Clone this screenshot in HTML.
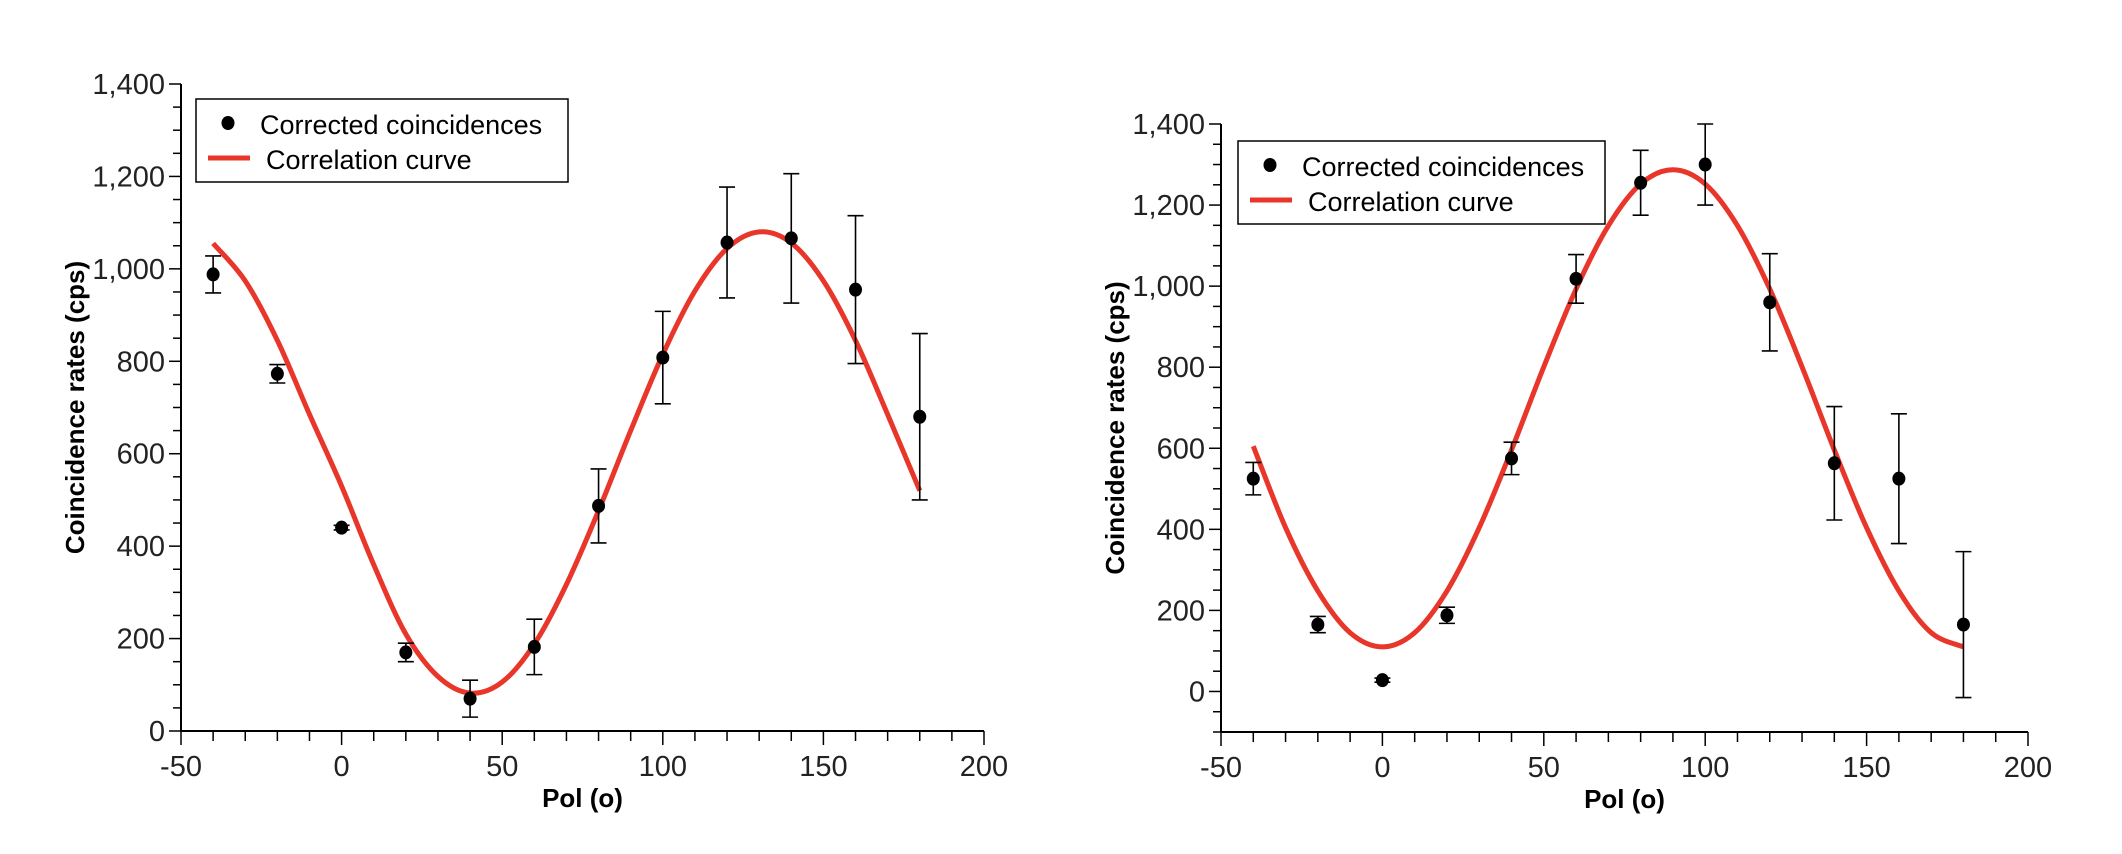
<!DOCTYPE html>
<html><head><meta charset="utf-8">
<style>
html,body{margin:0;padding:0;background:#fff;}
svg{display:block;font-family:"Liberation Sans",sans-serif;}
</style></head>
<body>
<svg id="svg" width="2122" height="854" viewBox="0 0 2122 854" xmlns="http://www.w3.org/2000/svg"></svg>
<script>
const curveAngles = [-40,-30,-20,-10,0,10,20,30,40,50,60,70,80,90,100,110,120,130,140,150,160,170,180];
const pointAngles = [-40,-20,0,20,40,60,80,100,120,140,160,180];
const leftPoints = [988,773,440,170,70,182,487,808,1057,1066,955,680];
const leftErrors = [40,20,5,20,40,60,80,100,120,140,160,180];
const leftCurve = [1055,974,845,685,530,360,210,118,82,106,188,317,477,650,815,952,1044,1080,1056,974,845,685,520];
const rightPoints = [525,165,28,188,575,1018,1255,1300,960,563,525,165];
const rightErrors = [40,20,5,20,40,60,80,100,120,140,160,180];
const rightCurve = [605,404,248,145,110,145,248,404,596,801,993,1149,1252,1287,1252,1149,993,801,596,404,248,145,110];
const xTicks = [-50,0,50,100,150,200];
const yTicks = [0,200,400,600,800,1000,1200,1400];

const svg = document.getElementById('svg');
const NS = 'http://www.w3.org/2000/svg';
function mk(tag, attrs, parent){const e=document.createElementNS(NS,tag);for(const k in attrs)e.setAttribute(k,attrs[k]);(parent||svg).appendChild(e);return e;}

function smoothPath(pts){
  let d = 'M'+pts[0][0].toFixed(1)+','+pts[0][1].toFixed(1);
  for(let i=0;i<pts.length-1;i++){
    const p0=pts[Math.max(0,i-1)], p1=pts[i], p2=pts[i+1], p3=pts[Math.min(pts.length-1,i+2)];
    const c1=[p1[0]+(p2[0]-p0[0])/6, p1[1]+(p2[1]-p0[1])/6];
    const c2=[p2[0]-(p3[0]-p1[0])/6, p2[1]-(p3[1]-p1[1])/6];
    d += ` C${c1[0].toFixed(1)},${c1[1].toFixed(1)} ${c2[0].toFixed(1)},${c2[1].toFixed(1)} ${p2[0].toFixed(1)},${p2[1].toFixed(1)}`;
  }
  return d;
}

function chart(o, name){
  const g = mk('g',{});
  
  
  const X = v => o.x0 + (v - (-50)) / 250 * (o.x1 - o.x0);
  const Y = v => o.yb - (v - o.ymin) / (1400 - o.ymin) * (o.yb - o.yt);
  const ya = mk('line',{x1:o.x0,y1:o.yt,x2:o.x0,y2:o.yb,stroke:'#000','stroke-width':2},g);
  
  
  const xa = mk('line',{x1:o.x0,y1:o.yb,x2:o.x1,y2:o.yb,stroke:'#000','stroke-width':2},g);
  
  
  for(let v=o.ymin; v<=1400; v+=50){
    const major = v%200===0;
    mk('line',{x1:o.x0-(major?12:8),y1:Y(v),x2:o.x0,y2:Y(v),stroke:'#000','stroke-width':1.5},g);
  }
  for(let v=-50; v<=200; v+=10){
    const major = v%50===0;
    mk('line',{x1:X(v),y1:o.yb,x2:X(v),y2:o.yb+(major?14:10),stroke:'#000','stroke-width':1.5},g);
  }
  yTicks.forEach(v=>{
    const t = mk('text',{x:o.x0-16,y:Y(v)+10,'text-anchor':'end','font-size':29,fill:'#222'},g);
    t.textContent = v.toLocaleString('en-US');
    
    
  });
  xTicks.forEach(v=>{
    const t = mk('text',{x:X(v),y:o.yb+45,'text-anchor':'middle','font-size':29,fill:'#222'},g);
    t.textContent = String(v);
    
    
  });
  const yt = mk('text',{x:0,y:0,transform:`translate(${o.ytx},${(o.yt+o.yb)/2}) rotate(-90)`,'text-anchor':'middle','font-size':26,'font-weight':'bold',fill:'#000'},g);
  yt.textContent = 'Coincidence rates (cps)';
  
  
  const xt = mk('text',{x:(o.x0+o.x1)/2,y:o.yb+76,'text-anchor':'middle','font-size':26,'font-weight':'bold',fill:'#000'},g);
  xt.textContent = 'Pol (o)';
  
  
  const pts = o.curve.map((v,i)=>[X(curveAngles[i]), Y(v)]);
  const c = mk('path',{d:smoothPath(pts),fill:'none',stroke:'#e8362a','stroke-width':5,'stroke-linejoin':'round'},g);
  
  
  o.points.forEach((v,i)=>{
    const x = X(pointAngles[i]), e = o.errors[i];
    const eb = mk('path',{d:`M${x},${Y(v-e)} L${x},${Y(v+e)} M${x-8},${Y(v-e)} L${x+8},${Y(v-e)} M${x-8},${Y(v+e)} L${x+8},${Y(v+e)}`,stroke:'#000','stroke-width':1.6,fill:'none'},g);
    
    
    const p = mk('ellipse',{cx:x,cy:Y(v),rx:6.5,ry:7,fill:'#000'},g);
    
    
  });
  const lg = mk('g',{},g);
  
  
  mk('rect',{x:o.lx,y:o.ly,width:o.lw,height:83,fill:'#fff',stroke:'#000','stroke-width':1.5},lg);
  mk('ellipse',{cx:o.lx+32,cy:o.ly+24,rx:6.5,ry:7,fill:'#000'},lg);
  const t1 = mk('text',{x:o.lx+64,y:o.ly+35,'font-size':27,fill:'#000'},lg);
  t1.textContent = 'Corrected coincidences';
  
  
  mk('line',{x1:o.lx+12,y1:o.ly+59,x2:o.lx+54,y2:o.ly+59,stroke:'#e8362a','stroke-width':5},lg);
  const t2 = mk('text',{x:o.lx+70,y:o.ly+70,'font-size':27,fill:'#000'},lg);
  t2.textContent = 'Correlation curve';
  
  
}

chart({x0:181,x1:984,yt:84,yb:731,ymin:0,ytx:84,lx:196,ly:99,lw:372,points:leftPoints,errors:leftErrors,curve:leftCurve},'left-chart');
chart({x0:1221,x1:2028,yt:124,yb:732,ymin:-100,ytx:1124,lx:1238,ly:141,lw:367,points:rightPoints,errors:rightErrors,curve:rightCurve},'right-chart');
</script>
</body></html>
